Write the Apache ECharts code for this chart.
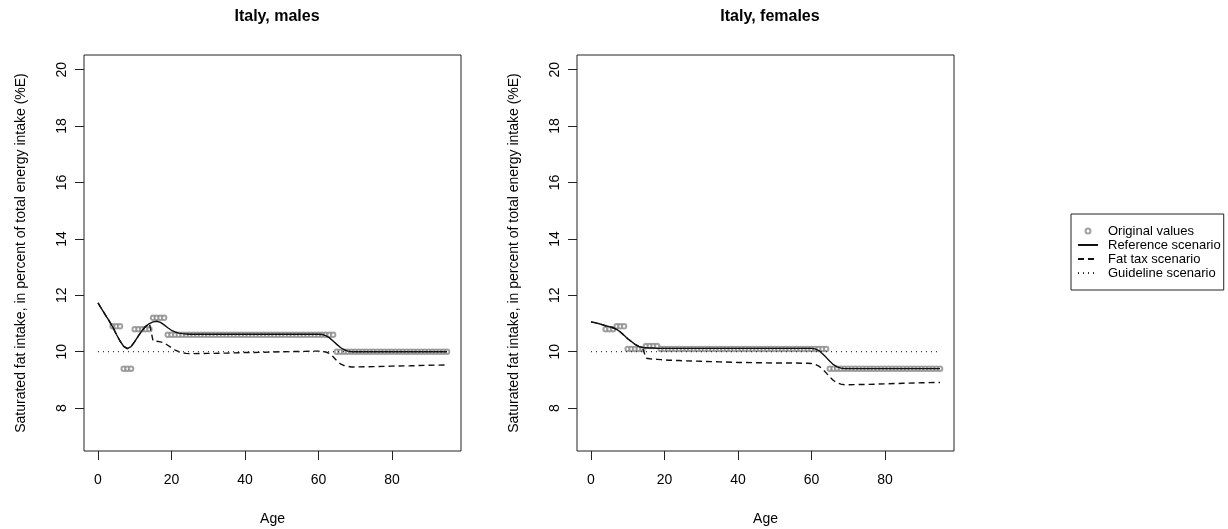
<!DOCTYPE html>
<html>
<head>
<meta charset="utf-8">
<title>Italy saturated fat intake</title>
<script src="https://cdn.jsdelivr.net/npm/echarts@6/dist/echarts.min.js"></script>
<style>
  html, body { margin: 0; padding: 0; background: #fff; }
  #chart { width: 1228px; height: 529px; }
</style>
</head>
<body>
<div id="chart"></div>
<script>
var lineAges = [0,1,2,3,4,5,6,7,8,9,10,11,12,13,14,15,16,17,18,19,20,21,22,23,24,25,
    30,35,40,45,50,55,
    58,59,60,61,62,63,64,65,66,67,68,69,70,
    75,80,85,90,95];

var maleReference = [11.73,11.52,11.31,11.10,10.88,10.62,10.38,10.19,10.11,10.18,10.36,10.56,10.75,10.90,11.00,11.06,11.08,11.04,10.95,10.85,10.76,10.70,10.66,10.64,10.63,10.62,
    10.62,10.62,10.62,10.62,10.62,10.62,
    10.62,10.62,10.62,10.61,10.57,10.49,10.38,10.26,10.15,10.07,10.02,10.00,10.00,
    10.00,10.00,10.00,10.00,10.00];
var maleFatTax = [11.73,11.52,11.31,11.10,10.88,10.62,10.38,10.19,10.11,10.18,10.36,10.56,10.75,10.90,11.00,10.38,10.37,10.35,10.31,10.23,10.14,10.06,10.00,9.96,9.94,9.93,
    9.94,9.95,9.97,9.98,10.00,10.01,
    10.02,10.02,10.02,10.01,9.99,9.94,9.82,9.68,9.57,9.51,9.48,9.46,9.46,
    9.47,9.49,9.50,9.52,9.53];

var femaleReference = [11.06,11.03,11.00,10.96,10.92,10.89,10.85,10.79,10.70,10.58,10.46,10.36,10.26,10.19,10.15,10.14,10.13,10.13,10.12,10.12,10.12,10.12,10.12,10.12,10.12,10.12,
    10.12,10.12,10.12,10.12,10.12,10.12,
    10.12,10.12,10.12,10.10,10.04,9.93,9.80,9.66,9.54,9.46,9.42,9.40,9.40,
    9.40,9.40,9.40,9.40,9.40];
var femaleFatTax = [11.06,11.03,11.00,10.96,10.92,10.89,10.85,10.79,10.70,10.58,10.46,10.36,10.26,10.19,10.15,9.77,9.75,9.74,9.73,9.72,9.71,9.70,9.70,9.69,9.69,9.68,
    9.66,9.64,9.62,9.61,9.60,9.60,
    9.59,9.59,9.58,9.55,9.49,9.39,9.25,9.10,8.98,8.90,8.85,8.83,8.83,
    8.84,8.86,8.88,8.90,8.91];

var guidelineAges = [0, 95];
var guidelineValues = [10, 10];

// original survey values, one value per age group
var groupStart = [4, 7, 10, 15, 19, 65];
var groupEnd = [6, 9, 14, 18, 64, 95];
var maleOriginal = [10.9, 9.4, 10.8, 11.2, 10.6, 10.0];
var femaleOriginal = [10.8, 10.9, 10.1, 10.2, 10.1, 9.4];

var xTicks = [0, 20, 40, 60, 80];
var yTicks = [8, 10, 12, 14, 16, 18, 20];

function pairs(xs, ys) {
    return xs.map(function (x, i) { return [x, ys[i]]; });
}
function groupPoints(values) {
    var out = [];
    for (var g = 0; g < groupStart.length; g++) {
        for (var a = groupStart[g]; a <= groupEnd[g]; a++) out.push([a, values[g]]);
    }
    return out;
}

var font = 'Liberation Sans, Arial, Helvetica, sans-serif';
var ink = '#222';
var noMark = { color: 'rgba(0,0,0,0)', borderColor: 'rgba(0,0,0,0)', borderWidth: 0, opacity: 0 };

function makeX(i) {
    return {
        type: 'value', gridIndex: i, min: -3.8, max: 98.8,
        name: 'Age', nameLocation: 'middle', nameGap: 61,
        nameTextStyle: { fontFamily: font, fontSize: 14, color: '#000' },
        axisLine: { show: false, onZero: false },
        axisTick: { show: true, length: 9, lineStyle: { color: ink }, customValues: xTicks },
        axisLabel: { fontFamily: font, fontSize: 14, color: '#000', margin: 22, customValues: xTicks },
        splitLine: { show: false }
    };
}
function makeY(i) {
    return {
        type: 'value', gridIndex: i, min: 6.48, max: 20.52,
        name: 'Saturated fat intake, in percent of total energy intake (%E)',
        nameLocation: 'middle', nameGap: 56, nameRotate: 90,
        nameTextStyle: { fontFamily: font, fontSize: 14, color: '#000' },
        axisLine: { show: false, onZero: false },
        axisTick: { show: true, length: 9, lineStyle: { color: ink }, customValues: yTicks },
        axisLabel: { fontFamily: font, fontSize: 14, color: '#000', margin: 15, rotate: 90, customValues: yTicks },
        splitLine: { show: false }
    };
}
function makeSeries(i, orig, ref, fat) {
    return [
        {
            name: 'Original values', type: 'scatter', xAxisIndex: i, yAxisIndex: i,
            symbol: 'emptyCircle', symbolSize: 4.5,
            itemStyle: { color: '#8a8a8a', borderWidth: 1 },
            data: groupPoints(orig), z: 2, silent: true
        },
        {
            name: 'Reference scenario', type: 'line', xAxisIndex: i, yAxisIndex: i,
            symbol: 'none', itemStyle: { color: '#111' },
            lineStyle: { color: '#111', width: 1.4, type: 'solid' },
            data: pairs(lineAges, ref), z: 3
        },
        {
            name: 'Fat tax scenario', type: 'line', xAxisIndex: i, yAxisIndex: i,
            symbol: 'none', itemStyle: { color: '#111' },
            lineStyle: { color: '#111', width: 1.4, type: [6, 4] },
            data: pairs(lineAges, fat), z: 3
        },
        {
            name: 'Guideline scenario', type: 'line', xAxisIndex: i, yAxisIndex: i,
            symbol: 'none', itemStyle: { color: '#333' },
            lineStyle: { color: '#333', width: 1.2, type: [1, 4] },
            data: pairs(guidelineAges, guidelineValues), z: 3
        }
    ];
}

var myChart = echarts.init(document.getElementById('chart'), null, { renderer: 'canvas' });

var option = {
    animation: false,
    backgroundColor: '#fff',
    title: [
        { text: 'Italy, males', left: 272, top: 4, textAlign: 'center',
          textStyle: { fontFamily: font, fontSize: 16, fontWeight: 'bold', color: '#000' } },
        { text: 'Italy, females', left: 765, top: 4, textAlign: 'center',
          textStyle: { fontFamily: font, fontSize: 16, fontWeight: 'bold', color: '#000' } }
    ],
    legend: {
        orient: 'vertical', left: 1071, top: 214,
        borderColor: ink, borderWidth: 1, padding: [10, 3, 10, 6],
        itemWidth: 20, itemHeight: 5, itemGap: 0,
        selectedMode: false,
        textStyle: { fontFamily: font, fontSize: 13, color: '#000', lineHeight: 14, padding: [0, 0, 0, 5] },
        data: [
            { name: 'Original values' },
            { name: 'Reference scenario', itemStyle: noMark },
            { name: 'Fat tax scenario', itemStyle: noMark },
            { name: 'Guideline scenario', itemStyle: noMark }
        ]
    },
    grid: [
        { left: 84, top: 55, width: 377, height: 396, show: true, borderColor: ink, borderWidth: 1,
          outerBoundsMode: 'none' },
        { left: 577, top: 55, width: 377, height: 396, show: true, borderColor: ink, borderWidth: 1,
          outerBoundsMode: 'none' }
    ],
    xAxis: [makeX(0), makeX(1)],
    yAxis: [makeY(0), makeY(1)],
    series: makeSeries(0, maleOriginal, maleReference, maleFatTax)
        .concat(makeSeries(1, femaleOriginal, femaleReference, femaleFatTax))
};

myChart.setOption(option);
</script>
</body>
</html>
